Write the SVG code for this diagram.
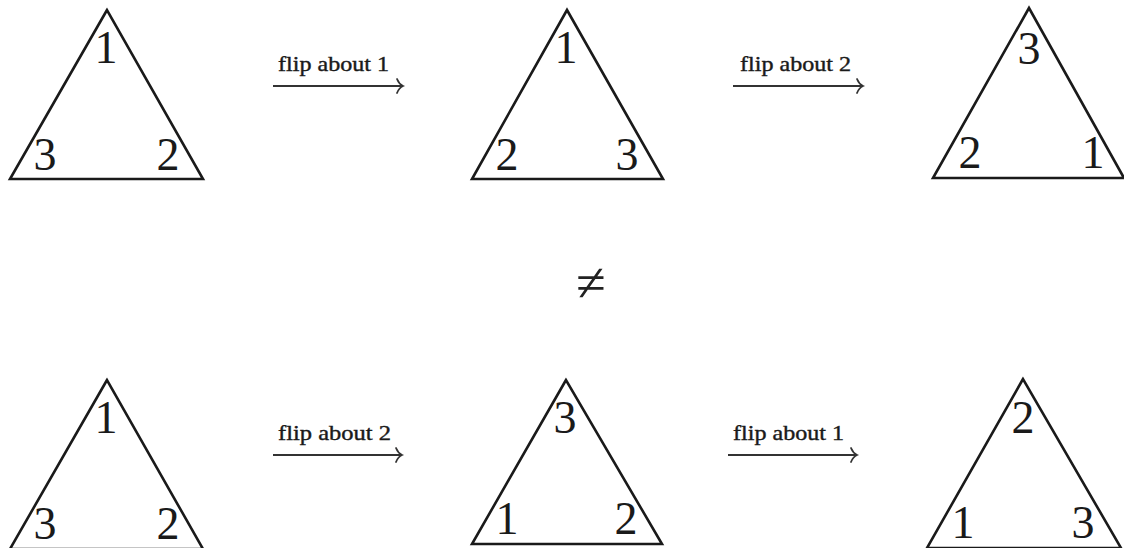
<svg xmlns="http://www.w3.org/2000/svg" width="1124" height="548" viewBox="0 0 1124 548">
<style>
.tri{fill:none;stroke:#1a1a1a;stroke-width:2.6;stroke-linejoin:miter}
.num{font-family:"Liberation Serif",serif;font-size:46px;fill:#1a1a1a;text-anchor:middle}
.lbl{font-family:"Liberation Serif",serif;font-size:21px;fill:#1a1a1a;stroke:#1a1a1a;stroke-width:0.4}
.arr{fill:none;stroke:#333;stroke-width:1.8}
.head{fill:none;stroke:#333;stroke-width:1.8;stroke-linecap:round}
</style>
<rect width="1124" height="548" fill="#fff"/>
<g id="t1">
<polygon class="tri" points="107,10 10,179 203,179"/>
<text class="num" x="106" y="63">1</text><text class="num" x="45" y="170">3</text><text class="num" x="168" y="170">2</text>
</g>
<g id="t2">
<polygon class="tri" points="567,10 472,179 663,179"/>
<text class="num" x="566" y="63">1</text><text class="num" x="507" y="170">2</text><text class="num" x="627" y="170">3</text>
</g>
<g id="t3">
<polygon class="tri" points="1029,8 933,178 1124,178"/>
<text class="num" x="1029" y="64">3</text><text class="num" x="970" y="168">2</text><text class="num" x="1093" y="168">1</text>
</g>
<g id="t4">
<polygon class="tri" points="107,380 10,549 203,549"/>
<text class="num" x="106" y="433">1</text><text class="num" x="45" y="539">3</text><text class="num" x="168" y="539">2</text>
</g>
<g id="t5">
<polygon class="tri" points="566,380 472,544 662,544"/>
<text class="num" x="565" y="433">3</text><text class="num" x="507" y="534">1</text><text class="num" x="626" y="534">2</text>
</g>
<g id="t6">
<polygon class="tri" points="1023,379 927,548 1121,548"/>
<text class="num" x="1023" y="433">2</text><text class="num" x="963" y="538">1</text><text class="num" x="1083" y="538">3</text>
</g>
<g id="neq">
<text x="591" y="301" font-family="Liberation Serif, serif" font-size="54" fill="#222" text-anchor="middle">≠</text>
</g>
<g id="connectors">
<line class="arr" x1="273" y1="86" x2="402" y2="86"/>
<path class="head" d="M397,79 Q399,84 403,86 Q399,88 397,93"/>
<text class="lbl" x="278" y="71" textLength="111" lengthAdjust="spacingAndGlyphs">flip about 1</text>
<line class="arr" x1="733" y1="86" x2="862" y2="86"/>
<path class="head" d="M857,79 Q859,84 863,86 Q859,88 857,93"/>
<text class="lbl" x="740" y="71" textLength="111" lengthAdjust="spacingAndGlyphs">flip about 2</text>
<line class="arr" x1="273" y1="455" x2="401" y2="455"/>
<path class="head" d="M396,448 Q398,453 402,455 Q398,457 396,462"/>
<text class="lbl" x="278" y="440" textLength="113" lengthAdjust="spacingAndGlyphs">flip about 2</text>
<line class="arr" x1="728" y1="455" x2="856" y2="455"/>
<path class="head" d="M851,448 Q853,453 857,455 Q853,457 851,462"/>
<text class="lbl" x="733" y="440" textLength="111" lengthAdjust="spacingAndGlyphs">flip about 1</text>
</g>
</svg>
